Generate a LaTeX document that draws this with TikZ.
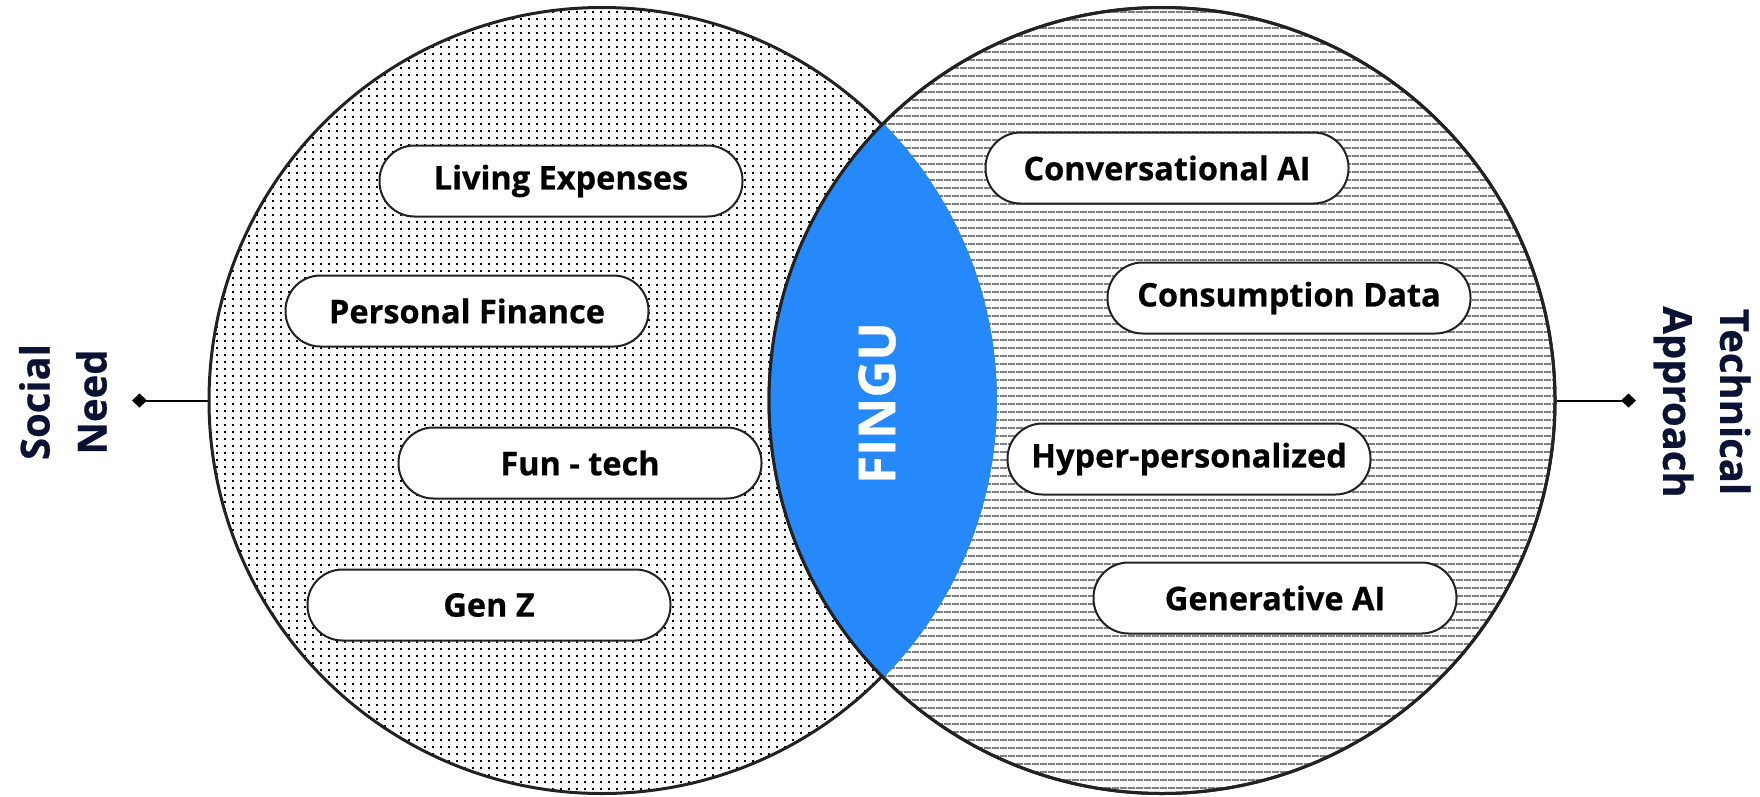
\documentclass[tikz,border=0pt]{standalone}
\usepackage{fontspec}
\setmainfont{Open Sans}[BoldFeatures={FakeBold=0.6}]
\usetikzlibrary{arrows.meta,patterns}
\definecolor{fingublue}{HTML}{2689FB}
\definecolor{navy}{HTML}{0B1233}
\definecolor{edge}{HTML}{222222}
\pgfdeclarepatternformonly{socialdots}{\pgfpointorigin}{\pgfpoint{8pt}{6.7pt}}{\pgfpoint{8pt}{6.7pt}}{\pgfpathrectangle{\pgfpointorigin}{\pgfpoint{2pt}{2pt}}\pgfusepath{fill}}
\pgfdeclarepatternformonly{techlines}{\pgfpointorigin}{\pgfpoint{8pt}{7.8pt}}{\pgfpoint{8pt}{7.8pt}}{\pgfpathrectangle{\pgfpointorigin}{\pgfpoint{8pt}{2pt}}\pgfusepath{fill}}
\begin{document}
\begin{tikzpicture}[x=1pt,y=-1pt,
	bigcircle/.style={circle,draw=edge,line width=3pt,minimum size=786pt,inner sep=0pt},
	pill/.style={draw=edge,fill=white,line width=2pt,rounded corners=35pt,minimum width=363pt,minimum height=71pt,font=\fontsize{32.5}{38}\selectfont\bfseries},
	sidelabel/.style={align=center,text=navy,font=\fontsize{40}{57}\selectfont\bfseries},
	stem/.style={line width=2pt,-{Diamond[width=14pt,length=15pt]}}]
	\useasboundingbox (0,0) rectangle (1760,796);
	\node[bigcircle,pattern=socialdots] (need) at (602,400.5) {};
	\node[bigcircle,pattern=techlines,pattern color=gray] (tech) at (1162,400.5) {};
	% overlap
	\begin{scope}
		\clip (need.center) circle[radius=395pt];
		\fill[fingublue] (tech.center) circle[radius=393pt];
	\end{scope}
	\draw[edge,line width=3pt] (tech.center) circle[radius=393pt];
	\node[rotate=90,text=white,font=\fontsize{51}{60}\selectfont\bfseries] (fingu) at (877,403) {FINGU};
	\node[pill] (living) at (561,181) {Living Expenses};
	\node[pill] (finance) at (467,311) {Personal Finance};
	\node[pill] (funtech) at (580,463) {Fun - tech};
	\node[pill] (genz) at (489,605) {Gen Z};
	\node[pill] (conv) at (1167,168) {Conversational AI};
	\node[pill] (consum) at (1289,298) {Consumption Data};
	\node[pill] (hyper) at (1189,459) {Hyper-personalized};
	\node[pill] (gen) at (1275,598) {Generative AI};
	\coordinate (needtip) at (132,400.5);
	\coordinate (techtip) at (1636,400.5);
	\draw[stem] (need.west) -- (needtip);
	\draw[stem] (tech.east) -- (techtip);
	\node[sidelabel,rotate=90] (needlabel) at (63,402) {Social\\Need};
	\node[sidelabel,rotate=-90] (techlabel) at (1702,402) {Technical\\Approach};
\end{tikzpicture}
\end{document}
